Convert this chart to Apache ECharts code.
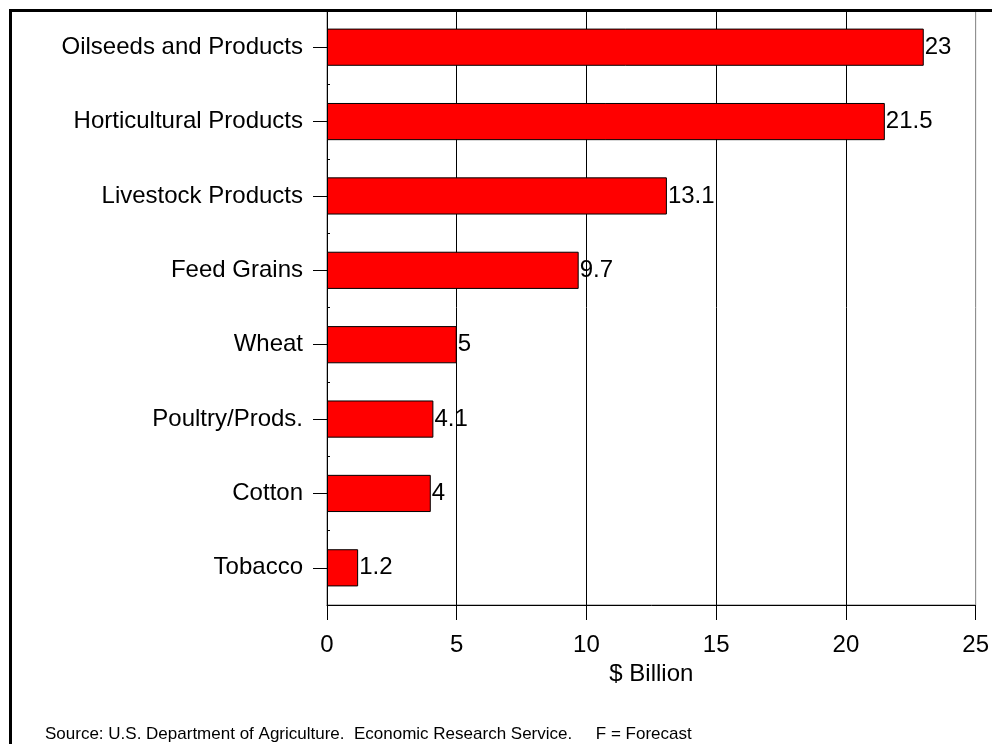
<!DOCTYPE html>
<html><head><meta charset="utf-8">
<script src="https://cdn.jsdelivr.net/npm/echarts@6/dist/echarts.min.js"></script>
<style>html,body{margin:0;padding:0;background:#fff}#c{width:992px;height:744px}</style>
</head><body><div id="c"></div>
<script>
const categories = ["Oilseeds and Products","Horticultural Products","Livestock Products","Feed Grains","Wheat","Poultry/Prods.","Cotton","Tobacco"];
const values = [23, 21.5, 13.1, 9.7, 5, 4.1, 4, 1.2];
const xTicks = [0, 5, 10, 15, 20, 25];
const axisTitle = "$ Billion";
const sourceText = "Source: U.S. Department of Agriculture.  Economic Research Service.     F = Forecast";

const FONT = "'Liberation Sans', Arial, sans-serif";
const chart = echarts.init(document.getElementById('c'), null, {renderer:'canvas'});
chart.setOption({
  animation: false,
  backgroundColor: '#fff',
  grid: {left: 327, right: 15, top: 10, bottom: 139, show: true, borderColor: '#808080', borderWidth: 1, backgroundColor: 'transparent'},
  xAxis: {
    type: 'value', min: xTicks[0], max: xTicks[xTicks.length-1], interval: 5,
    name: axisTitle, nameLocation: 'middle', nameGap: 57,
    nameTextStyle: {fontFamily: FONT, fontSize: 24, color: '#000'},
    axisLine: {show: true, lineStyle: {color: '#000'}},
    axisTick: {show: true, length: 15, inside: false, lineStyle: {color: '#000'}},
    axisLabel: {fontFamily: FONT, fontSize: 24, color: '#000', margin: 28},
    splitLine: {show: true, showMinLine: false, showMaxLine: false, lineStyle: {color: '#000', width: 1}}
  },
  yAxis: [{
    type: 'category', data: categories, inverse: true,
    axisLine: {show: true, lineStyle: {color: '#000'}},
    axisTick: {show: true, alignWithLabel: true, length: 14, lineStyle: {color: '#000'}},
    axisLabel: {fontFamily: FONT, fontSize: 24, color: '#000', margin: 24},
    splitLine: {show: false}
  }, {
    type: 'category', data: categories, inverse: true, position: 'left', offset: 0,
    axisLine: {show: false},
    axisTick: {show: true, inside: true, alignWithLabel: false, length: 3, lineStyle: {color: '#000'}},
    axisLabel: {show: false},
    splitLine: {show: false}
  }],
  series: [{
    type: 'bar', data: values, barCategoryGap: '50%', yAxisIndex: 0,
    itemStyle: {color: '#FF0000', borderColor: '#000', borderWidth: 1},
    label: {show: true, position: 'right', distance: 1, fontFamily: FONT, fontSize: 24, color: '#000'}
  }],
  graphic: [
    {type: 'rect', left: 8, top: 8, shape: {width: 1000, height: 800}, style: {fill: 'none', stroke: '#000', lineWidth: 3}, silent: true},
    {type: 'text', left: 45, top: 726, style: {text: sourceText, font: "17px " + FONT, fill: '#000'}}
  ]
});
</script></body></html>
